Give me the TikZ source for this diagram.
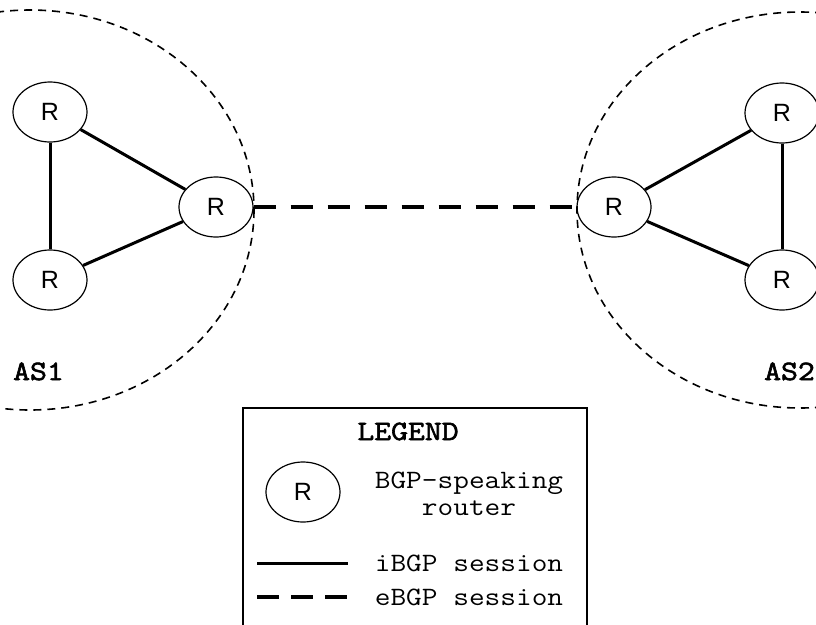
\documentclass[tikz,border=0pt]{standalone}
\usepackage{fontspec}
\setmainfont{Liberation Serif}
\newfontfamily\monofont[FakeStretch=1.15]{Latin Modern Mono}
\newfontfamily\monobold[FakeStretch=1.17, FakeBold=2.2]{Latin Modern Mono}
\newfontfamily\labelfont{Liberation Sans}
\usetikzlibrary{shapes.geometric}

\tikzset{
  router/.style={ellipse, draw, line width=1.2pt, minimum width=74pt, minimum height=60pt,
    inner sep=0pt, font=\labelfont\fontsize{25}{27}\selectfont},
  ibgp/.style={line width=3pt},
  ebgp/.style={line width=3.5pt, dash pattern=on 22pt off 15pt},
  asborder/.style={line width=1.6pt, dash pattern=on 8pt off 6pt},
  aslabel/.style={inner sep=0pt, font=\monobold\fontsize{28}{30}\selectfont},
  legtext/.style={inner sep=0pt, font=\monofont\fontsize{26.5}{27}\selectfont},
}

\begin{document}
\begin{tikzpicture}[x=1pt, y=-1pt]
  \useasboundingbox (0,0) rectangle (816,624);
  \clip (0,0) rectangle (816,624);

  % autonomous system borders
  \draw[asborder] (30,210) ellipse [x radius=224, y radius=200];
  \draw[asborder] (800,210) ellipse [x radius=223, y radius=198];

  % routers of AS1
  \node[router] (a1) at (50,112) {R};
  \node[router] (a2) at (50,280) {R};
  \node[router] (a3) at (216,207) {R};
  % routers of AS2
  \node[router] (b1) at (614,207) {R};
  \node[router] (b2) at (782,113) {R};
  \node[router] (b3) at (782,280) {R};

  % iBGP sessions
  \draw[ibgp] (a1) -- (a2);
  \draw[ibgp] (a1) -- (a3);
  \draw[ibgp] (a2) -- (a3);
  \draw[ibgp] (b1) -- (b2);
  \draw[ibgp] (b1) -- (b3);
  \draw[ibgp] (b2) -- (b3);

  % eBGP session
  \draw[ebgp] (a3.east) -- (b1.west);

  % AS labels
  \node[aslabel, anchor=base west] (as1) at (13,380) {AS1};
  \node[aslabel, anchor=base west] (as2) at (764,380) {AS2};

  % legend
  \draw[line width=1.5pt, fill=white] (243,408) rectangle (587,640);
  \node[aslabel, anchor=base] (legtitle) at (408,440) {LEGEND};
  \node[router] (legr) at (303,492) {R};
  \node[legtext, anchor=base] (legr1) at (469,488) {BGP-speaking};
  \node[legtext, anchor=base] (legr2) at (469,515) {router};
  \coordinate (is1) at (257,563);
  \coordinate (is2) at (348,563);
  \coordinate (es1) at (257,597);
  \coordinate (es2) at (348,597);
  \draw[ibgp] (is1) -- (is2);
  \draw[line width=3.5pt, dash pattern=on 22pt off 12pt] (es1) -- (es2);
  \node[legtext, anchor=base] (legi) at (469,571) {iBGP session};
  \node[legtext, anchor=base] (lege) at (469,605) {eBGP session};
\end{tikzpicture}
\end{document}
